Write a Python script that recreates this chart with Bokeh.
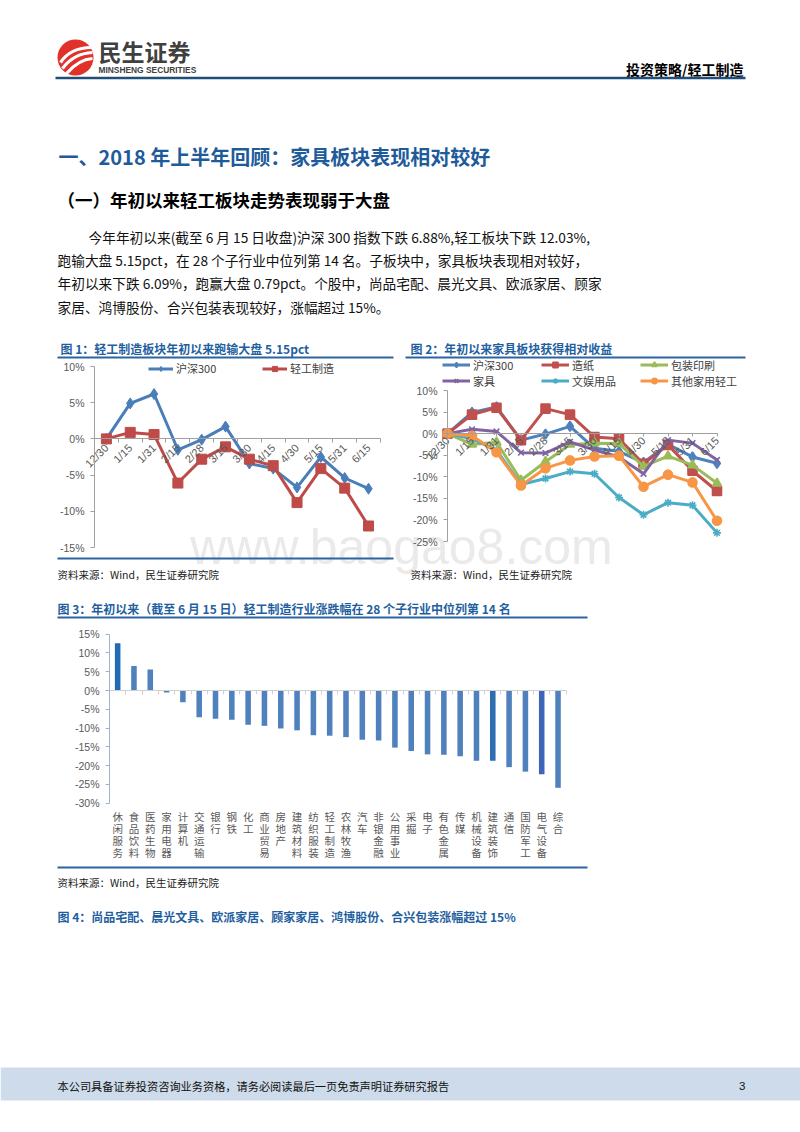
import math
from bokeh.plotting import figure
from bokeh.models import (Range1d, LinearAxis, FixedTicker, PrintfTickFormatter,
                          Legend, LegendItem)
from bokeh.core.properties import value
from bokeh.embed import file_html
from bokeh.resources import INLINE

# ---------------- data ----------------
dates = ["12/30", "1/15", "1/31", "2/15", "2/28", "3/15", "3/30",
         "4/15", "4/30", "5/15", "5/31", "6/15"]

# chart 1 (cumulative change, %)
c1_names = ["沪深300", "轻工制造"]
hs300 = [0.0, 4.9, 6.2, -1.5, -0.1, 1.7, -3.4, -4.1, -6.7, -2.5, -5.4, -6.88]
light_mfg = [0.0, 0.9, 0.6, -6.1, -2.8, -1.1, -2.8, -3.7, -8.8, -4.1, -6.8, -12.03]

# chart 2 (cumulative change, %)
c2_names = ["沪深300", "造纸", "包装印刷", "家具", "文娱用品", "其他家用轻工"]
paper = [0.0, 4.4, 6.0, -1.5, 5.8, 4.4, -0.8, -1.2, -7.0, -2.6, -8.6, -13.3]
packaging = [0.0, -2.5, -2.0, -10.8, -6.5, -2.5, -2.2, -2.3, -7.6, -5.2, -7.3, -11.5]
furniture = [0.0, 1.0, 0.5, -4.4, -4.5, -1.9, -3.8, -5.4, -9.3, -1.5, -2.2, -6.09]
stationery = [0.0, -1.2, -3.8, -11.8, -10.4, -8.8, -9.3, -14.8, -18.8, -16.0, -16.6, -23.0]
other_light = [0.0, -0.5, -4.3, -12.0, -8.0, -6.2, -5.3, -5.1, -12.3, -9.5, -11.3, -20.2]

# chart 3 (YTD change by industry, %)
industries = ["休闲服务", "食品饮料", "医药生物", "家用电器", "计算机", "交通运输", "银行",
              "钢铁", "化工", "商业贸易", "房地产", "建筑材料", "纺织服装", "轻工制造",
              "农林牧渔", "汽车", "非银金融", "公用事业", "采掘", "电子", "有色金属",
              "传媒", "机械设备", "建筑装饰", "通信", "国防军工", "电气设备", "综合"]
industry_chg = [12.6, 6.5, 5.6, -0.5, -3.1, -7.1, -7.5, -7.8, -9.1, -9.4, -10.1, -10.6,
                -11.9, -12.03, -12.4, -13.1, -13.3, -15.2, -16.1, -17.0, -17.1, -17.5,
                -18.7, -18.7, -20.4, -21.6, -22.3, -25.9]

c1_ticks = [-15, -10, -5, 0, 5, 10]
c2_ticks = [-25, -20, -15, -10, -5, 0, 5, 10]
c3_ticks = [-30, -25, -20, -15, -10, -5, 0, 5, 10, 15]

# ---------------- texts ----------------
brand = "民生证券"
brand_en = "MINSHENG SECURITIES"
header_right = "投资策略/轻工制造"
section_title = "一、2018 年上半年回顾：家具板块表现相对较好"
sub_title = "（一）年初以来轻工板块走势表现弱于大盘"
para = ["今年年初以来(截至 6 月 15 日收盘)沪深 300 指数下跌 6.88%,轻工板块下跌 12.03%,",
        "跑输大盘 5.15pct，在 28 个子行业中位列第 14 名。子板块中，家具板块表现相对较好，",
        "年初以来下跌 6.09%，跑赢大盘 0.79pct。个股中，尚品宅配、晨光文具、欧派家居、顾家",
        "家居、鸿博股份、合兴包装表现较好，涨幅超过 15%。"]
fig1_title = "图 1：轻工制造板块年初以来跑输大盘 5.15pct"
fig2_title = "图 2：年初以来家具板块获得相对收益"
fig3_title = "图 3：年初以来（截至 6 月 15 日）轻工制造行业涨跌幅在 28 个子行业中位列第 14 名"
fig4_title = "图 4：尚品宅配、晨光文具、欧派家居、顾家家居、鸿博股份、合兴包装涨幅超过 15%"
source = "资料来源：Wind，民生证券研究院"
footer = "本公司具备证券投资咨询业务资格，请务必阅读最后一页免责声明证券研究报告"
page_no = "3"
watermark = "www.baogao8.com"

# ---------------- styles / layout ----------------
CJK = "Noto Sans CJK SC"
LAT = "Liberation Sans"
BLUE_T = "#1F5F9F"
RULE = "#2C64A0"
TICK_TXT = "#595959"
AX_COL = "#A0A0A0"
AX3_COL = "#9DB3D0"
ZERO3_COL = "#D0D0D0"
S_COLORS = ["#4F81BD", "#C0504D", "#9BBB59", "#8064A2", "#4BACC6", "#F79646"]
S_MARKERS = ["diamond", "square", "triangle", "x", "asterisk", "circle"]
S_SIZES = [10, 9, 9, 8, 8, 9]
BAR_COL = "#4F81BD"
BAR_DARK = {"休闲服务": "#1F6BB5", "建筑装饰": "#2E6DB2", "电气设备": "#3D66B8"}

# the figure's frame is placed at page (PX0, PY0)
PX0, PY0 = 0, 0
W, H = 800, 1120
FX0, FX1 = PX0, PX0 + W
FY_BOT, FY_TOP = PY0 + H, PY0

# chart geometry (page pixels)
C1 = dict(x_first=105.9, x_step=23.83, y_top=366.0, y_bot=547.0)
C2 = dict(x_first=447.0, x_step=24.5, y_top=390.0, y_bot=541.0)
C3 = dict(x_left=109.0, x_step=16.31, y_top=633.7, y_bot=802.7)

p = figure(width=W, height=H, x_range=Range1d(FX0, FX1), y_range=Range1d(FY_BOT, FY_TOP),
           x_axis_type=None, y_axis_type=None, toolbar_location=None,
           output_backend="svg", min_border=0, outline_line_color=None,
           background_fill_color="white", border_fill_color="white")


def mapped_range(px_a, v_a, px_b, v_b, px_lo, px_hi):
    k = (v_b - v_a) / (px_b - px_a)
    return Range1d(start=v_a + (px_lo - px_a) * k, end=v_a + (px_hi - px_a) * k)


n = len(dates)
xs = list(range(n))
n3 = len(industries)
xs3 = list(range(n3))

p.extra_x_ranges = {
    "c1x": mapped_range(C1["x_first"], 0, C1["x_first"] + C1["x_step"] * (n - 1), n - 1, FX0, FX1),
    "c2x": mapped_range(C2["x_first"], 0, C2["x_first"] + C2["x_step"] * (n - 1), n - 1, FX0, FX1),
    "c3x": mapped_range(C3["x_left"], -0.5, C3["x_left"] + C3["x_step"] * n3, n3 - 0.5, FX0, FX1),
}
p.extra_y_ranges = {
    "c1y": mapped_range(C1["y_top"], c1_ticks[-1], C1["y_bot"], c1_ticks[0], FY_BOT, FY_TOP),
    "c2y": mapped_range(C2["y_top"], c2_ticks[-1], C2["y_bot"], c2_ticks[0], FY_BOT, FY_TOP),
    "c3y": mapped_range(C3["y_top"], c3_ticks[-1], C3["y_bot"], c3_ticks[0], FY_BOT, FY_TOP),
}


def txt(x, y, t, size, color="#000000", bold=False, align="left", font=CJK, **kw):
    p.text(x=[x], y=[y], text=[t], text_font=value(font), text_font_size=size,
           text_color=color, text_font_style="bold" if bold else "normal",
           text_align=align, text_baseline="middle", **kw)


# watermark (behind everything)
txt(401, 546, watermark, "50px", color="#EAEAEA", align="center", font=LAT)

# ---------------- page header ----------------
p.circle(x=[75], y=[57], radius=18, fill_color="#E0312B", line_color=None)
p.quadratic(x0=[60, 62, 66], y0=[62, 68, 73], x1=[91, 92, 92], y1=[47, 52, 58],
            cx=[70, 73, 78], cy=[47, 53, 59], line_color="white", line_width=3.2)
txt(98, 50, brand, "23px", color="#404040", bold=True)
txt(98, 69.5, brand_en, "8.4px", color="#404040", bold=True, font=LAT)
txt(743, 68, header_right, "14px", bold=True, align="right")
p.segment(x0=[55], y0=[77.5], x1=[745], y1=[77.5], line_color="#1F4E79", line_width=2.5)

txt(58, 156, section_title, "20px", color="#1E5B9A", bold=True)
txt(57, 199, sub_title, "17.5px", bold=True)
para_x = [88, 57, 57, 57]
para_y = [236, 259, 282, 306]
for px_, py_, line in zip(para_x, para_y, para):
    txt(px_, py_, line, "13.7px", color="#111111")

# ---------------- figure captions / rules ----------------
txt(60, 348, fig1_title, "12px", color=BLUE_T, bold=True)
txt(410, 348, fig2_title, "12px", color=BLUE_T, bold=True)
txt(57, 608, fig3_title, "12px", color=BLUE_T, bold=True)
txt(57, 916, fig4_title, "12px", color=BLUE_T, bold=True)
txt(57, 574, source, "10.5px", color="#222222")
txt(410, 574, source, "10.5px", color="#222222")
txt(57, 882, source, "10.5px", color="#222222")
p.segment(x0=[57, 405, 57, 57, 57], y0=[357, 357, 558, 617, 867],
          x1=[393, 745, 393, 587, 587], y1=[357, 357, 558, 617, 867],
          line_color=RULE, line_width=1.8)

# ---------------- footer ----------------
p.quad(left=[0], right=[800], top=[1067], bottom=[1100], fill_color="#CDDBEA", line_color=None)
txt(57, 1085, footer, "11.2px", color="#111111")
txt(745, 1085, page_no, "11.5px", color="#111111", align="right", font=LAT)


# ---------------- axes helpers ----------------
def y_axis(xname, yname, loc, ticks, col):
    ax = LinearAxis(x_range_name=xname, y_range_name=yname, fixed_location=loc,
                    bounds=(ticks[0], ticks[-1]),
                    ticker=FixedTicker(ticks=ticks, minor_ticks=[]),
                    formatter=PrintfTickFormatter(format="%d%%"),
                    axis_line_color=col, axis_line_width=1,
                    major_tick_line_color=col, major_tick_out=4, major_tick_in=0,
                    minor_tick_line_color=None, major_label_standoff=6,
                    major_label_text_font=LAT, major_label_text_font_size="10.5px",
                    major_label_text_color=TICK_TXT)
    p.add_layout(ax, "left")


def cat_axis(xname, yname, loc, bounds, ticks, minor, labels, col, tick_out, standoff,
             orientation="horizontal", line_height=1.2, show_line=True, font=LAT,
             size="10.5px"):
    ax = LinearAxis(x_range_name=xname, y_range_name=yname, fixed_location=loc,
                    bounds=bounds, ticker=FixedTicker(ticks=ticks, minor_ticks=minor),
                    major_label_overrides=labels,
                    axis_line_color=col if show_line else None,
                    major_tick_line_color=col, major_tick_out=tick_out, major_tick_in=0,
                    minor_tick_line_color=col if minor else None,
                    minor_tick_out=4, minor_tick_in=0,
                    major_label_orientation=orientation, major_label_standoff=standoff,
                    major_label_text_font=font, major_label_text_font_size=size,
                    major_label_text_color=TICK_TXT,
                    major_label_text_line_height=line_height)
    p.add_layout(ax, "below")


# ---------------- chart 1 ----------------
y_axis("c1x", "c1y", -0.5, c1_ticks, AX_COL)
cat_axis("c1x", "c1y", 0, (-0.5, n - 0.5), xs, [i - 0.5 for i in range(n + 1)],
         {i: d for i, d in enumerate(dates)}, AX_COL, 0, 3, orientation=math.pi / 4,
         size="11px")
items1 = []
for name, ys, col, mk, sz in zip(c1_names, [hs300, light_mfg], ["#4A7EBB", "#BE4B48"],
                                 ["diamond", "square"], [11, 10]):
    lr = p.line(xs, ys, x_range_name="c1x", y_range_name="c1y", line_color=col,
                line_width=3, line_join="round")
    sr = p.scatter(xs, ys, x_range_name="c1x", y_range_name="c1y", marker=mk, size=sz,
                   fill_color=col, line_color=col)
    items1.append(LegendItem(label=name, renderers=[lr, sr]))
leg1 = Legend(items=items1, orientation="horizontal",
              location=(148 - FX0, FY_BOT - 376),
              border_line_color=None, background_fill_alpha=0, padding=0, margin=0,
              spacing=0, glyph_width=25, glyph_height=13, label_height=13,
              label_width=86, label_standoff=3, label_text_font=CJK,
              label_text_font_size="11px", label_text_color="#404040")
p.add_layout(leg1)

# ---------------- chart 2 ----------------
y_axis("c2x", "c2y", 0, c2_ticks, AX_COL)
cat_axis("c2x", "c2y", 0, (0, n - 1), xs, [], {i: d for i, d in enumerate(dates)},
         AX_COL, 3, 2, orientation=math.pi / 4, size="11px")
items2 = []
for name, ys, col, mk, sz in zip(c2_names,
                                 [hs300, paper, packaging, furniture, stationery, other_light],
                                 S_COLORS, S_MARKERS, S_SIZES):
    lr = p.line(xs, ys, x_range_name="c2x", y_range_name="c2y", line_color=col,
                line_width=3, line_join="round")
    sr = p.scatter(xs, ys, x_range_name="c2x", y_range_name="c2y", marker=mk, size=sz,
                   fill_color=col, line_color=col, line_width=1.6)
    items2.append(LegendItem(label=name, renderers=[lr, sr]))
leg2 = Legend(items=items2, orientation="horizontal", ncols=3,
              location=(442 - FX0, FY_BOT - 388.5),
              border_line_color=None, background_fill_alpha=0, padding=0, margin=0,
              spacing=0, glyph_width=28, glyph_height=13, label_height=13,
              label_width=68, label_standoff=3, label_text_font=CJK,
              label_text_font_size="11px", label_text_color="#404040",
              label_text_line_height=0.9)
p.add_layout(leg2)

# ---------------- chart 3 ----------------
bar_colors = [BAR_DARK.get(nm, BAR_COL) for nm in industries]
p.vbar(x=xs3, top=industry_chg, bottom=0, width=0.34, fill_color=bar_colors,
       line_color=None, x_range_name="c3x", y_range_name="c3y")
y_axis("c3x", "c3y", -0.5, c3_ticks, AX3_COL)
cat_axis("c3x", "c3y", 0, (-0.5, n3 - 0.5), [], [i - 0.5 for i in range(n3 + 1)],
         {}, ZERO3_COL, 0, 3)
cat_axis("c3x", "c3y", c3_ticks[0], (-0.5, n3 - 0.5), xs3, [],
         {i: "\n".join(nm) for i, nm in enumerate(industries)}, AX3_COL, 0, 6,
         line_height=0.8, show_line=False, font=CJK, size="10.5px")

open("out.html", "w").write(file_html(p, INLINE))
